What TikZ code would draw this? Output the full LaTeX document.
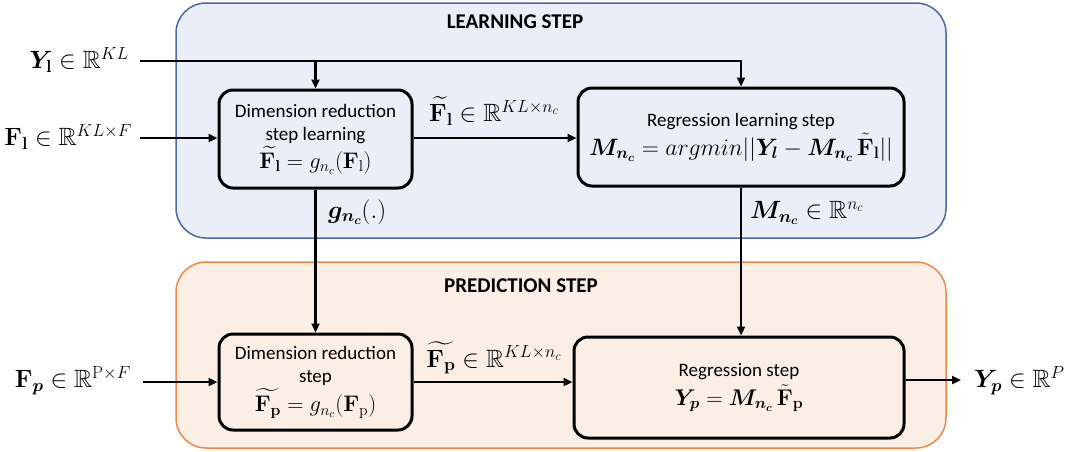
\RequirePackage{fix-cm}
\documentclass[tikz,border=0pt]{standalone}
\usepackage{amsmath,amssymb,bm}
\usepackage[no-math]{fontspec}
\setmainfont{Carlito}
\usetikzlibrary{arrows.meta,calc}
\definecolor{learnfill}{HTML}{E9EEF7}
\definecolor{learnline}{HTML}{4A6AA6}
\definecolor{predfill}{HTML}{FBEEE5}
\definecolor{predline}{HTML}{EE8A45}
\begin{document}
\begin{tikzpicture}[x=1pt,y=-1pt,
  stage/.style={line width=1.5pt, rounded corners=30pt},
  block/.style={draw=black, line width=3pt, rounded corners=14pt, align=center,
    inner sep=2pt, font=\fontsize{19}{23}\selectfont},
  conn/.style={line width=2.2pt, -{Triangle[length=9pt,width=8pt]}},
  lbl/.style={font=\fontsize{25}{28}\selectfont, inner sep=0pt},
  title/.style={font=\fontsize{21}{23}\selectfont\bfseries}]
\useasboundingbox (0,0) rectangle (1074,451);
% stage panels
\draw[stage, draw=learnline, fill=learnfill] (176,3) rectangle (946,238);
\draw[stage, draw=predline, fill=predfill] (176,262) rectangle (946,448);
\node[title] (t1) at (515,22) {LEARNING STEP};
\node[title] (t2) at (521,286) {PREDICTION STEP};
% blocks
\node[block, minimum width=193pt, minimum height=98pt] (A) at (315.5,139)
  {Dimension reduction\\step learning\\[2pt]
   {\fontsize{22.5}{23}\selectfont$\widetilde{\mathbf{F}_{\mathbf{l}}} = g_{n_c}(\mathbf{F}_{\mathrm{l}})$}};
\node[block, minimum width=326pt, minimum height=98pt] (B) at (741,137)
  {Regression learning step\\[3pt]
   {\fontsize{23.7}{24}\selectfont$\bm{M}_{\bm{n_c}} = argmin||\bm{Y}_{\bm{l}} - \bm{M}_{\bm{n_c}}\,\tilde{\mathbf{F}}_{\mathbf{l}}||$}};
\node[block, minimum width=193pt, minimum height=96pt] (C) at (315.5,382)
  {Dimension reduction\\step\\[3pt]
   {\fontsize{22.5}{23}\selectfont$\widetilde{\mathbf{F}_{\mathbf{p}}} = g_{n_c}(\mathbf{F}_{\mathrm{p}})$}};
\node[block, minimum width=330pt, minimum height=101pt] (D) at (739,387.5)
  {Regression step\\[4pt]
   {\fontsize{22.7}{24}\selectfont$\bm{Y}_{\bm{p}} = \bm{M}_{\bm{n_c}}\,\tilde{\mathbf{F}}_{\mathbf{p}}$}};
% outside labels
\node[lbl, anchor=east] (ylab) at (129,60) {$\bm{Y}_{\mathbf{l}} \in \mathbb{R}^{KL}$};
\node[lbl, anchor=east] (flab) at (132,137) {$\mathbf{F}_{\mathbf{l}} \in \mathbb{R}^{KL\times F}$};
\node[lbl, anchor=east] (fplab) at (131,381) {$\mathbf{F}_{\bm{p}} \in \mathbb{R}^{\mathrm{P}\times F}$};
\node[lbl] (ftl) at (494,111) {$\widetilde{\mathbf{F}_{\mathbf{l}}} \in \mathbb{R}^{KL\times n_c}$};
\node[lbl] (ftp) at (494,358) {$\widetilde{\mathbf{F}_{\mathbf{p}}} \in \mathbb{R}^{KL\times n_c}$};
\node[lbl, anchor=west] (glab) at (328,212) {$\bm{g}_{\bm{n_c}}(.)$};
\node[lbl, anchor=west] (mlab) at (750,213) {$\bm{M}_{\bm{n_c}} \in \mathbb{R}^{n_c}$};
\node[lbl, anchor=west] (yplab) at (974,381) {$\bm{Y}_{\bm{p}} \in \mathbb{R}^{P}$};
% coordinates
\coordinate (yl) at (140,61);
\coordinate (fl) at (140,138);
\coordinate (fp) at (143,382);
\coordinate (yp) at (961,380);
% connectors
\draw[conn] (yl) -| (B.north);
\draw[conn] (A.north |- yl) -- (A.north);
\draw[conn] (fl) -- (fl -| A.west);
\draw[conn] (A.east |- fl) -- (fl -| B.west);
\draw[conn] (A.south) -- (C.north);
\draw[conn] (B.south) -- (B.south |- D.north);
\draw[conn] (fp) -- (fp -| C.west);
\draw[conn] (C.east |- fp) -- (fp -| D.west);
\draw[conn] (D.east |- yp) -- (yp);
\end{tikzpicture}
\end{document}
